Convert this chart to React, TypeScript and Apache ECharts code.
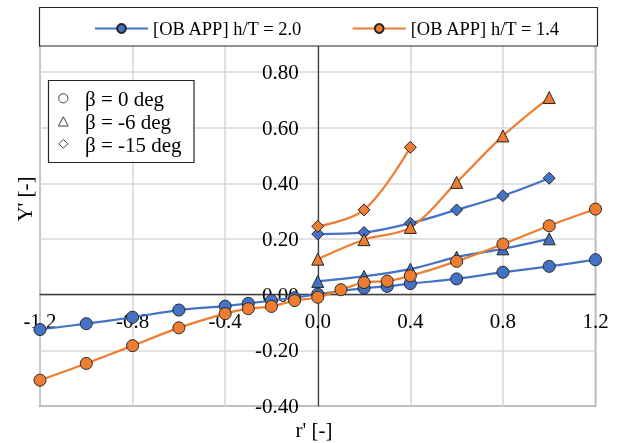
import React, { useEffect, useRef } from "react";
import * as echarts from "echarts";

const blueLabel = "[OB APP] h/T = 2.0";
const orangeLabel = "[OB APP] h/T = 1.4";
const betaLabels = ["β = 0 deg", "β = -6 deg", "β = -15 deg"];

// beta = 0 deg (circles)
const xCircleBlue = [-1.2, -1.0, -0.8, -0.6, -0.4, -0.3, -0.2, -0.1, 0, 0.2, 0.3, 0.4, 0.6, 0.8, 1.0, 1.2];
const yCircleBlue = [-0.125, -0.104, -0.081, -0.055, -0.041, -0.031, -0.021, -0.011, 0.002, 0.024, 0.030, 0.040, 0.057, 0.081, 0.102, 0.126];
const xCircleOrange = [-1.2, -1.0, -0.8, -0.6, -0.4, -0.3, -0.2, -0.1, 0, 0.1, 0.2, 0.3, 0.4, 0.6, 0.8, 1.0, 1.2];
const yCircleOrange = [-0.307, -0.247, -0.183, -0.119, -0.068, -0.050, -0.042, -0.021, -0.009, 0.018, 0.044, 0.049, 0.068, 0.120, 0.182, 0.248, 0.308];

// beta = -6 deg (triangles)
const xTriangle = [0, 0.2, 0.4, 0.6, 0.8, 1.0];
const yTriangleBlue = [0.048, 0.066, 0.092, 0.135, 0.165, 0.201];
const yTriangleOrange = [0.128, 0.198, 0.242, 0.404, 0.571, 0.709];

// beta = -15 deg (diamonds)
const xDiamondBlue = [0, 0.2, 0.4, 0.6, 0.8, 1.0];
const yDiamondBlue = [0.218, 0.224, 0.257, 0.305, 0.356, 0.419];
const xDiamondOrange = [0, 0.2, 0.4];
const yDiamondOrange = [0.246, 0.305, 0.530];

const X_MIN = -1.2;
const X_MAX = 1.2;
const Y_MIN = -0.4;
const Y_MAX = 1.0;

const BLUE = "#4472C4";
const ORANGE = "#ED7D31";
const FONT = "'Liberation Serif', 'Times New Roman', serif";

const W = 620;
const H = 443;
const GRID_LEFT = 40;
const GRID_RIGHT = 24.5;
const GRID_TOP = 16.6;
const GRID_BOTTOM = 37;

const pairs = (xs: number[], ys: number[]) => xs.map((x, i) => [x, ys[i]]);

function makeSeries(name: string, color: string, symbol: string, size: number, xs: number[], ys: number[]) {
  return {
    type: "line",
    name,
    data: pairs(xs, ys),
    smooth: 0.35,
    symbol,
    symbolSize: size,
    showAllSymbol: true,
    lineStyle: { color, width: 2.2 },
    itemStyle: { color, borderColor: "#262626", borderWidth: 1 },
    emphasis: { disabled: true },
  };
}

export default function App() {
  const ref = useRef<HTMLDivElement>(null);
  useEffect(() => {
    if (!ref.current) return;
    const chart = echarts.init(ref.current, null, { renderer: "svg" });
    const plotW = W - GRID_LEFT - GRID_RIGHT;
    const plotH = H - GRID_TOP - GRID_BOTTOM;
    // shift the axes so they cross at zero, as in the reference
    const yAxisOffset = -((0 - X_MIN) / (X_MAX - X_MIN)) * plotW;
    const xAxisOffset = -((0 - Y_MIN) / (Y_MAX - Y_MIN)) * plotH;
    const option: any = {
      animation: false,
      textStyle: { fontFamily: FONT },
      grid: {
        left: GRID_LEFT,
        right: GRID_RIGHT,
        top: GRID_TOP,
        bottom: GRID_BOTTOM,
        show: true,
        borderColor: "#404040",
        borderWidth: 1.3,
        backgroundColor: "transparent",
        containLabel: false,
        outerBoundsMode: "none",
      },
      legend: {
        data: [blueLabel, orangeLabel],
        left: 89,
        top: 14,
        itemWidth: 53,
        itemHeight: 11,
        itemGap: 49,
        z: 20,
        textStyle: { fontFamily: FONT, fontSize: 18.5, color: "#000" },
      },
      xAxis: {
        type: "value",
        min: X_MIN,
        max: X_MAX,
        interval: 0.4,
        offset: xAxisOffset,
        axisLine: { onZero: false, lineStyle: { color: "#404040", width: 1.3 } },
        axisTick: { show: false },
        splitLine: { show: true, lineStyle: { color: "#d9d9d9", width: 1.6 } },
        axisLabel: {
          fontFamily: FONT,
          fontSize: 21,
          color: "#000",
          margin: 16,
          formatter: (v: number) => v.toFixed(1),
        },
      },
      yAxis: {
        type: "value",
        min: Y_MIN,
        max: Y_MAX,
        interval: 0.2,
        offset: yAxisOffset,
        axisLine: { onZero: false, lineStyle: { color: "#404040", width: 1.3 } },
        axisTick: { show: false },
        splitLine: { show: true, lineStyle: { color: "#d9d9d9", width: 1.6 } },
        axisLabel: {
          fontFamily: FONT,
          fontSize: 21,
          color: "#000",
          margin: 19,
          formatter: (v: number) => (v > 0.85 ? "" : v.toFixed(2)),
        },
      },
      series: [
        makeSeries(blueLabel, BLUE, "circle", 12, xCircleBlue, yCircleBlue),
        makeSeries(blueLabel, BLUE, "triangle", 12, xTriangle, yTriangleBlue),
        makeSeries(blueLabel, BLUE, "diamond", 12, xDiamondBlue, yDiamondBlue),
        makeSeries(orangeLabel, ORANGE, "circle", 12, xCircleOrange, yCircleOrange),
        makeSeries(orangeLabel, ORANGE, "triangle", 12, xTriangle, yTriangleOrange),
        makeSeries(orangeLabel, ORANGE, "diamond", 12, xDiamondOrange, yDiamondOrange),
      ],
      graphic: [
        {
          type: "rect",
          z: 10,
          shape: { x: 39.5, y: 7.5, width: 558, height: 38.5 },
          style: { fill: "#fff", stroke: "#262626", lineWidth: 1.2 },
        },
        {
          type: "rect",
          z: 10,
          shape: { x: 48.5, y: 80.5, width: 145.5, height: 82 },
          style: { fill: "#fff", stroke: "#262626", lineWidth: 1.2 },
        },
        {
          type: "circle",
          z: 11,
          shape: { cx: 63.3, cy: 98.3, r: 4.6 },
          style: { fill: "#fff", stroke: "#404040", lineWidth: 1 },
        },
        {
          type: "polygon",
          z: 11,
          shape: { points: [[63.3, 116.8], [68.2, 126], [58.4, 126]] },
          style: { fill: "#fff", stroke: "#404040", lineWidth: 1 },
        },
        {
          type: "polygon",
          z: 11,
          shape: { points: [[63.3, 139.3], [67.8, 143.8], [63.3, 148.3], [58.8, 143.8]] },
          style: { fill: "#fff", stroke: "#404040", lineWidth: 1 },
        },
        ...betaLabels.map((t, i) => ({
          type: "text",
          z: 11,
          x: 85,
          y: 98.5 + i * 23,
          style: { text: t, fontFamily: FONT, fontSize: 21, fill: "#000", align: "left", verticalAlign: "middle" },
        })),
        {
          type: "text",
          z: 11,
          x: 25,
          y: 199,
          rotation: Math.PI / 2,
          style: { text: "Y' [-]", fontFamily: FONT, fontSize: 21, fill: "#000", align: "center", verticalAlign: "middle" },
        },
        {
          type: "text",
          z: 11,
          x: 314,
          y: 430,
          style: { text: "r' [-]", fontFamily: FONT, fontSize: 21, fill: "#000", align: "center", verticalAlign: "middle" },
        },
      ],
    };
    chart.setOption(option);
    return () => chart.dispose();
  }, []);
  return <div ref={ref} style={{ position: "fixed", left: 0, top: 0, width: W, height: H }} />;
}
